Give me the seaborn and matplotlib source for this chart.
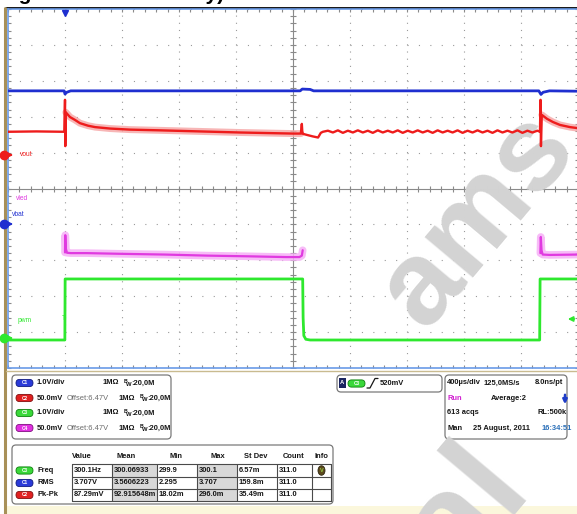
import matplotlib
matplotlib.use("Agg")
import matplotlib.pyplot as plt
import seaborn as sns
import pandas as pd
from matplotlib.patches import FancyBboxPatch, Rectangle, Ellipse
from matplotlib.ticker import MultipleLocator

# ---------------- data (time in us, 400 us/div; level in screen divisions 0..10) ----------------
vbat_t = [-400, -6, 0, 12, 40, 1650, 1665, 1720, 1745, 3325, 3340, 3355, 3400, 3600]
vbat_v = [7.72, 7.72, 7.63, 7.68, 7.72, 7.72, 7.77, 7.76, 7.72, 7.72, 7.62, 7.68, 7.72, 7.71]

vout_head_t = [-400, -200, -5, 0, 2, 6, 35, 70, 105, 161, 211, 316, 456, 667, 947, 1228, 1600,
               1655, 1662, 1666, 1672, 1700, 1740, 1776, 1795, 1810]
vout_head_v = [6.58, 6.59, 6.58, 7.47, 6.18, 7.12, 6.99, 6.91, 6.82, 6.75, 6.71, 6.67, 6.64, 6.62, 6.59, 6.56, 6.53,
               6.53, 6.80, 6.53, 6.52, 6.49, 6.45, 6.42, 6.55, 6.58]
vout_ripple_t = [1845, 1880, 1915, 1950, 1985, 2020, 2055, 2090, 2125, 2160,
                 2195, 2230, 2265, 2300, 2335, 2370, 2405, 2440, 2475, 2510,
                 2545, 2580, 2615, 2650, 2685, 2720, 2755, 2790, 2825, 2860,
                 2895, 2930, 2965, 3000, 3035, 3070, 3105, 3140, 3175, 3210,
                 3245, 3280, 3315]
vout_ripple_v = [6.61, 6.56, 6.62, 6.55, 6.61, 6.56, 6.62, 6.56, 6.61, 6.55,
                 6.62, 6.56, 6.61, 6.56, 6.62, 6.55, 6.61, 6.56, 6.62, 6.56,
                 6.61, 6.55, 6.62, 6.56, 6.61, 6.56, 6.62, 6.55, 6.61, 6.56,
                 6.62, 6.56, 6.61, 6.55, 6.62, 6.56, 6.61, 6.56, 6.62, 6.55,
                 6.61, 6.56, 6.61]
vout_tail_t = [3333, 3337, 3340, 3346, 3383, 3425, 3474, 3544, 3600]
vout_tail_v = [6.58, 7.47, 6.18, 7.05, 6.94, 6.85, 6.77, 6.71, 6.68]

vled1_t = [0, 2, 6, 14, 40, 150, 400, 700, 1000, 1300, 1550, 1645, 1662, 1668]
vled1_v = [3.22, 3.70, 3.32, 3.21, 3.20, 3.20, 3.18, 3.16, 3.13, 3.11, 3.09, 3.09, 3.13, 3.28]
vled2_t = [3336, 3339, 3344, 3352, 3400, 3600]
vled2_v = [3.20, 3.65, 3.28, 3.16, 3.15, 3.16]

pwm_t = [-400, -1, 1, 1668, 1671, 1676, 1690, 1720, 3331, 3334, 3600]
pwm_v = [0.78, 0.78, 2.48, 2.48, 1.40, 0.90, 0.80, 0.78, 0.78, 2.48, 2.48]

trace_names = ["vout", "vled", "vbat", "pwm"]

ch_ids = ["C1", "C2", "C3", "C4"]
ch_scale = ["1.0V/div", "50.0mV", "1.0V/div", "50.0mV"]
ch_offset = ["", "Offset:6.47V", "", "Offset:6.47V"]
ch_imp = "1MΩ"
ch_bw = ":20,0M"

meas_cols = ["Value", "Mean", "Min", "Max", "St Dev", "Count", "Info"]
meas_names = ["Freq", "RMS", "Pk-Pk"]
meas_ch = ["C3", "C1", "C2"]
meas_value = ["300.1Hz", "3.707V", "87.29mV"]
meas_mean = ["300.06933", "3.5606223", "92.915648m"]
meas_min = ["299.9", "2.295", "18.02m"]
meas_max = ["300.1", "3.707", "296.0m"]
meas_std = ["6.57m", "159.8m", "35.49m"]
meas_count = ["311.0", "311.0", "311.0"]

trig_level = "520mV"
tb_row1 = ["400µs/div", "125,0MS/s", "8.0ns/pt"]
tb_row2 = ["Run", "Average:2"]
tb_row3 = ["613 acqs", "RL:500k"]
tb_row4 = ["Man", "25 August, 2011", "16:34:51"]

# ---------------- style ----------------
sns.set_theme(style="white")
plt.rcParams['font.family'] = ['Liberation Sans', 'DejaVu Sans']
plt.rcParams['lines.scale_dashes'] = False
FONT = ['Liberation Sans', 'DejaVu Sans']
FS = 5.4

BLUE = '#1f2fd0'
RED = '#ee1c1c'
MAG = '#e03ae0'
GREEN = '#2ee82e'
COLORS = {"C1": ('#2a3ad8', '#101a80'), "C2": ('#e02020', '#801010'),
          "C3": ('#3ad83a', '#108010'), "C4": ('#e030e0', '#801080')}

W, H = 577, 514
fig = plt.figure(figsize=(W / 100, H / 100), dpi=100)
fig.patch.set_facecolor('white')

bg = fig.add_axes([0, 0, 1, 1], zorder=0)
bg.set_xlim(0, W); bg.set_ylim(H, 0); bg.axis('off')

X0, X1, Y0, Y1 = 8, 578, 9, 368
ax = fig.add_axes([X0 / W, 1 - Y1 / H, (X1 - X0) / W, (Y1 - Y0) / H], zorder=1)
fg = fig.add_axes([0, 0, 1, 1], zorder=2)
fg.set_xlim(0, W); fg.set_ylim(H, 0); fg.axis('off')

TMIN, TMAX = -400, 3600
ax.set_facecolor('white')

# graticule
pt_x = (X1 - X0) / 10.0 * 0.72  # points per division
pt_y = (Y1 - Y0) / 10.0 * 0.72
for k in range(11):
    xk = TMIN + 400 * k
    if k != 5:
        ax.axvline(xk, color='#9a9a9a', lw=0.8, ls=(0, (0.8, pt_y / 5 - 0.8)), zorder=1)
        ax.axhline(k, color='#9a9a9a', lw=0.8, ls=(0, (0.8, pt_x / 5 - 0.8)), zorder=1)
ax.axvline(1600, color='#8a8a8a', lw=0.8, zorder=1)
ax.axhline(5, color='#8a8a8a', lw=0.8, zorder=1)
minor_x = [TMIN + 80 * k for k in range(51)]
minor_y = [0.2 * k for k in range(51)]
ax.plot(minor_x, [5] * len(minor_x), ls='none', marker='|', ms=4, mew=0.8, color='#8a8a8a', zorder=1)
ax.plot([1600] * len(minor_y), minor_y, ls='none', marker='_', ms=4, mew=0.8, color='#8a8a8a', zorder=1)

ax.xaxis.set_major_locator(MultipleLocator(400))
ax.xaxis.set_minor_locator(MultipleLocator(80))
ax.yaxis.set_major_locator(MultipleLocator(1))
ax.yaxis.set_minor_locator(MultipleLocator(0.2))
ax.tick_params(which='both', direction='in', length=2.5, width=0.8, color='#8a8a8a',
               top=True, bottom=True, left=True, right=True,
               labelbottom=False, labelleft=False)
for s in ax.spines.values():
    s.set_color('#6a9be8'); s.set_linewidth(1.2)

# watermark (under the traces)
WM = dict(transform=bg.transData, clip_on=False, rotation=50, rotation_mode='anchor',
          va='baseline', fontweight='bold', color='#d3d3d3', family=FONT, zorder=1.5)
ax.text(502, 240, "ams", ha='center', fontsize=86, **WM)
ax.text(532, 488, "confidential", ha='right', fontsize=100, **WM)

# traces
df_bat = pd.DataFrame({"t": vbat_t, "v": vbat_v})
df_out = pd.DataFrame({"t": vout_head_t + vout_ripple_t + vout_tail_t,
                       "v": vout_head_v + vout_ripple_v + vout_tail_v})
df_led = pd.DataFrame({"t": vled1_t + vled2_t, "v": vled1_v + vled2_v,
                       "seg": [0] * len(vled1_t) + [1] * len(vled2_t)})
df_pwm = pd.DataFrame({"t": pwm_t, "v": pwm_v})

on_out = df_out[((df_out.t >= 6) & (df_out.t <= 1660)) | (df_out.t >= 3346)].copy()
on_out["seg"] = (on_out.t >= 3346).astype(int)

sns.lineplot(data=on_out, x="t", y="v", units="seg", estimator=None, sort=False, ax=ax,
             color='#f6a4a4', linewidth=5.0, alpha=0.8, zorder=2)
sns.lineplot(data=df_led, x="t", y="v", units="seg", estimator=None, sort=False, ax=ax,
             color='#f6b0f6', linewidth=5.5, alpha=0.85, zorder=2)
sns.lineplot(data=df_bat, x="t", y="v", estimator=None, sort=False, ax=ax,
             color=BLUE, linewidth=2.0, zorder=3)
sns.lineplot(data=df_out, x="t", y="v", estimator=None, sort=False, ax=ax,
             color=RED, linewidth=1.7, zorder=3)
sns.lineplot(data=df_led, x="t", y="v", units="seg", estimator=None, sort=False, ax=ax,
             color=MAG, linewidth=1.6, zorder=3)
sns.lineplot(data=df_pwm, x="t", y="v", estimator=None, sort=False, ax=ax,
             color=GREEN, linewidth=2.0, zorder=3)
ax.set_xlim(TMIN, TMAX); ax.set_ylim(0, 10)
ax.set_xlabel(""); ax.set_ylabel("")

# channel markers and labels
def gnd_marker(y, color):
    fg.plot([4], [y], marker='o', ms=6, color=color, clip_on=False)
    fg.annotate('', xy=(16, y), xytext=(6, y),
                arrowprops=dict(arrowstyle='-|>', color=color, lw=1.2, mutation_scale=6))

gnd_marker(155, RED)
gnd_marker(224, BLUE)
gnd_marker(338, GREEN)
lab = dict(fontsize=4.8, va='center', ha='left')
fg.text(20, 155, trace_names[0], color=RED, **lab)
fg.text(16, 198, trace_names[1], color=MAG, **lab)
fg.text(12, 215, trace_names[2], color=BLUE, **lab)
fg.text(18, 320, trace_names[3], color=GREEN, **lab)
fg.text(62, 318, "T", color=GREEN, **lab)
fg.annotate('', xy=(565, 319), xytext=(577, 319),
            arrowprops=dict(arrowstyle='-|>', color=GREEN, lw=1.3, mutation_scale=7))
fg.plot([65], [12.5], marker='v', ms=5, color=BLUE)

# frame pieces
bg.plot([5, 577], [7.6, 7.6], color='black', lw=2.0, solid_capstyle='butt')
bg.plot([5, 5], [7, 514], color='#a89058', lw=2.2, solid_capstyle='butt')
bg.plot([6, 577], [371, 371], color='#c9bb90', lw=1.0)
bg.add_patch(Rectangle((6, 506), 571, 8, fc='#fbf7dc', ec='none'))

# title (cut off at top of the picture)
bg.text(0, 0.3, "Figure 9: Vout Battery)", fontsize=15, fontweight='bold', color='black',
        va='baseline', ha='left', family=FONT)

# ---------------- bottom info panel ----------------
def txt(x, y, s, color='#161616', size=FS, weight='bold', ha='left'):
    bg.text(x, y, s, color=color, fontsize=size, fontweight=weight, ha=ha, va='center', family=FONT)

def rbox(x0, y0, x1, y1):
    bg.add_patch(FancyBboxPatch((x0, y0), x1 - x0, y1 - y0, boxstyle='round,pad=0,rounding_size=4',
                                fc='white', ec='#7a7a7a', lw=0.9))

def chip(x, y, cid):
    fc, ec = COLORS[cid]
    bg.add_patch(FancyBboxPatch((x, y - 3.6), 17, 7.2, boxstyle='round,pad=0,rounding_size=3.6',
                                fc=fc, ec=ec, lw=0.6))
    bg.text(x + 8.5, y, cid, color='white', fontsize=3.4, ha='center', va='center', fontweight='bold')

def bw(x, y):
    bg.text(x, y - 1.9, "B", fontsize=3.8, fontweight='bold', color='#161616', va='center', family=FONT)
    bg.text(x + 2.3, y + 1.3, "W", fontsize=4.2, fontweight='bold', color='#161616', va='center', family=FONT)
    txt(x + 7.2, y, ch_bw)

# channel box
rbox(12, 375, 171, 439)
for i, cid in enumerate(ch_ids):
    y = 383 + 15 * i
    chip(16, y, cid)
    txt(37, y, ch_scale[i])
    if ch_offset[i]:
        txt(67, y, ch_offset[i], color='#6a6a6a', weight='normal')
        txt(119, y, ch_imp)
        bw(140, y)
    else:
        txt(103, y, ch_imp)
        bw(124, y)

# measurement table
rbox(12, 445, 333, 504)
col_edges = [72, 112, 157, 197, 237, 277, 312, 331]
row_edges = [464, 477, 489, 501]
head_x = [82, 126, 176, 218, 256, 294, 321]
for hx, name in zip(head_x, meas_cols):
    txt(hx, 456.5, name, ha='center')
for j in (1, 3):
    bg.add_patch(Rectangle((col_edges[j], row_edges[0]), col_edges[j + 1] - col_edges[j],
                           row_edges[-1] - row_edges[0], fc='#d8d8d8', ec='none'))
for xe in col_edges:
    bg.plot([xe, xe], [row_edges[0], row_edges[-1]], color='#4a4a4a', lw=0.8)
for ye in row_edges:
    bg.plot([col_edges[0], col_edges[-1]], [ye, ye], color='#4a4a4a', lw=0.8)
cols = [meas_value, meas_mean, meas_min, meas_max, meas_std, meas_count]
for r in range(3):
    yc = (row_edges[r] + row_edges[r + 1]) / 2
    chip(16, yc, meas_ch[r])
    txt(37, yc, meas_names[r])
    for c, col in enumerate(cols):
        txt(col_edges[c] + 1.5, yc, col[r])
bg.add_patch(Ellipse((321.5, 470.5), 7, 9.5, fc='#5c4a1c', ec='#2c2410', lw=0.6))
bg.text(321.5, 470.5, "V", color='#9bd04a', fontsize=4, ha='center', va='center', fontweight='bold')

# trigger box
rbox(337, 375, 442, 392)
bg.add_patch(Rectangle((338.5, 378), 7.5, 10, fc='#1a2460', ec='none'))
bg.text(342.2, 383, "A", color='white', fontsize=4.2, ha='center', va='center', fontweight='bold')
chip(348, 383.5, "C3")
bg.plot([367, 370, 375, 378], [388, 388, 378.5, 378.5], color='#161616', lw=0.9)
txt(380, 383.5, trig_level)

# timebase box
rbox(445, 375, 567, 439)
txt(447, 383, tb_row1[0]); txt(484, 383, tb_row1[1]); txt(535, 383, tb_row1[2])
txt(447, 398, tb_row2[0], color='#d020d0'); txt(491, 398, tb_row2[1])
bg.annotate('', xy=(565, 407), xytext=(565, 392),
            arrowprops=dict(arrowstyle='-|>', color='#1e3cc8', lw=1.8, mutation_scale=6))
txt(447, 413, tb_row3[0]); txt(537, 413, tb_row3[1])
txt(447, 428, tb_row4[0]); txt(473, 428, tb_row4[1]); txt(542, 428, tb_row4[2], color='#2a6fb8')

fig.savefig("out.png", dpi=100)
